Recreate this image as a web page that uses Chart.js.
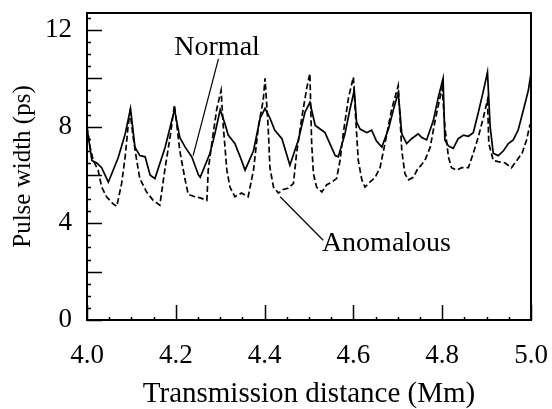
<!DOCTYPE html>
<html>
<head>
<meta charset="utf-8">
<script src="https://cdn.jsdelivr.net/npm/chart.js@4/dist/chart.umd.min.js"></script>
<style>
  html, body { margin: 0; padding: 0; background: #fff; }
  canvas { display: block; }
</style>
</head>
<body>
<canvas id="c" width="552" height="409"></canvas>
<script>
// ---- data ----
const xTickLabels = [4.0, 4.2, 4.4, 4.6, 4.8, 5.0];
const yTickLabels = [0, 4, 8, 12];

const xNormal = [4.000,4.003,4.011,4.022,4.033,4.048,4.070,4.086,4.098,4.108,4.119,4.131,4.142,4.153,4.176,4.197,4.209,4.221,4.236,4.251,4.255,4.277,4.288,4.300,4.311,4.318,4.333,4.345,4.356,4.375,4.390,4.401,4.412,4.423,4.439,4.457,4.476,4.491,4.502,4.514,4.525,4.536,4.547,4.559,4.566,4.581,4.592,4.602,4.607,4.615,4.630,4.641,4.652,4.664,4.679,4.690,4.701,4.709,4.720,4.731,4.746,4.754,4.765,4.780,4.791,4.802,4.806,4.814,4.825,4.836,4.848,4.859,4.870,4.881,4.893,4.902,4.908,4.915,4.926,4.938,4.949,4.960,4.971,4.983,4.994,5.000];
const yNormal = [7.9,7.6,6.6,6.5,6.3,5.7,6.7,7.7,8.75,7.15,6.8,6.75,6.0,5.85,7.15,8.7,7.55,7.15,6.75,6.0,5.9,6.9,7.7,8.7,8.1,7.65,7.3,6.75,6.2,7.0,8.35,8.75,8.35,7.85,7.5,6.4,7.45,8.6,9.0,8.05,7.9,7.75,7.3,6.8,6.75,7.7,8.7,9.5,8.2,7.9,7.75,7.85,7.4,7.15,7.9,8.7,9.4,7.7,7.3,7.5,7.7,7.55,7.45,8.25,9.2,10.0,7.45,7.2,7.1,7.5,7.65,7.6,7.75,8.55,9.5,10.25,8.0,6.9,6.8,7.0,7.3,7.45,7.85,8.7,9.5,10.2];

const xAnomalous = [4.000,4.007,4.014,4.025,4.033,4.044,4.059,4.067,4.078,4.086,4.093,4.097,4.104,4.112,4.119,4.134,4.149,4.164,4.176,4.187,4.197,4.209,4.221,4.228,4.243,4.255,4.270,4.273,4.281,4.292,4.302,4.307,4.315,4.322,4.333,4.348,4.363,4.375,4.386,4.397,4.401,4.408,4.412,4.420,4.431,4.442,4.453,4.465,4.472,4.484,4.495,4.502,4.506,4.510,4.517,4.529,4.540,4.551,4.562,4.570,4.577,4.589,4.600,4.604,4.611,4.619,4.626,4.637,4.649,4.660,4.671,4.686,4.701,4.709,4.716,4.724,4.735,4.746,4.750,4.761,4.773,4.784,4.795,4.800,4.806,4.814,4.821,4.832,4.844,4.859,4.870,4.881,4.893,4.902,4.905,4.915,4.926,4.941,4.956,4.968,4.980,4.990,4.998];
const yAnomalous = [8.0,7.15,6.6,6.2,5.5,5.1,4.8,4.7,5.65,6.75,8.1,8.6,7.55,6.6,5.85,5.3,4.95,4.75,6.3,7.55,8.9,7.0,5.8,5.2,5.1,5.05,4.95,6.2,7.3,8.7,9.5,8.0,6.2,5.5,5.1,5.25,5.1,6.2,8.0,9.1,10.0,8.0,6.3,5.5,5.25,5.4,5.45,5.65,6.9,8.4,9.6,10.2,7.3,6.05,5.5,5.3,5.6,5.7,5.85,6.6,7.7,9.2,10.05,8.7,6.6,5.8,5.5,5.7,5.9,6.3,7.3,8.7,9.7,7.0,6.05,5.8,5.9,6.3,6.35,6.6,7.15,8.25,9.2,9.6,8.0,6.75,6.3,6.2,6.3,6.3,6.9,7.55,8.4,9.1,7.3,6.6,6.55,6.5,6.3,6.6,6.9,7.45,8.1];

const seriesNames = ['Normal', 'Anomalous'];

// ---- presentation ----
const SERIF = "'Liberation Serif', 'Times New Roman', serif";

const annotations = [
  { text: seriesNames[0], tx: 4.293, ty: 10.95, align: 'center', line: [4.296, 10.8, 4.239, 6.8] },
  { text: seriesNames[1], tx: 4.529, ty: 2.85, align: 'left', line: [4.435, 5.1, 4.532, 3.3] }
];

const framePlugin = {
  id: 'frame',
  afterDraw(chart) {
    const { ctx, chartArea: a, scales: { x, y } } = chart;
    ctx.save();
    ctx.strokeStyle = '#000';
    ctx.lineWidth = 1.5;
    ctx.beginPath();
    for (let k = 0; k <= 25; k++) {
      const v = k * 0.5;
      const py = Math.round(y.getPixelForValue(v)) + 0.5;
      const len = (k % 4 === 0) ? 15 : 4;
      ctx.moveTo(a.left, py);
      ctx.lineTo(a.left + len, py);
    }
    for (let k = 0; k <= 20; k++) {
      const v = 4 + k * 0.05;
      const px = Math.round(x.getPixelForValue(v)) + 0.5;
      const len = (k % 4 === 0) ? 15 : 3;
      ctx.moveTo(px, a.bottom);
      ctx.lineTo(px, a.bottom - len);
    }
    ctx.stroke();
    ctx.lineWidth = 2;
    ctx.strokeRect(a.left, a.top, a.right - a.left, a.bottom - a.top);

    ctx.lineWidth = 1.2;
    ctx.font = '28px ' + SERIF;
    ctx.fillStyle = '#000';
    ctx.textBaseline = 'alphabetic';
    for (const an of annotations) {
      ctx.beginPath();
      ctx.moveTo(x.getPixelForValue(an.line[0]), y.getPixelForValue(an.line[1]));
      ctx.lineTo(x.getPixelForValue(an.line[2]), y.getPixelForValue(an.line[3]));
      ctx.stroke();
      ctx.textAlign = an.align;
      ctx.fillText(an.text, x.getPixelForValue(an.tx), y.getPixelForValue(an.ty));
    }
    ctx.restore();
  }
};

new Chart(document.getElementById('c'), {
  type: 'line',
  data: {
    datasets: [
      {
        label: seriesNames[0],
        data: xNormal.map((v, i) => ({ x: v, y: yNormal[i] })),
        borderColor: '#000',
        borderWidth: 1.7,
        pointRadius: 0,
        tension: 0,
        fill: false
      },
      {
        label: seriesNames[1],
        data: xAnomalous.map((v, i) => ({ x: v, y: yAnomalous[i] })),
        borderColor: '#000',
        borderWidth: 1.7,
        borderDash: [6, 3],
        pointRadius: 0,
        tension: 0,
        fill: false
      }
    ]
  },
  options: {
    responsive: false,
    animation: false,
    events: [],
    layout: { padding: { left: 0, right: 21, top: 13, bottom: 0 } },
    plugins: { legend: { display: false }, tooltip: { enabled: false } },
    scales: {
      x: {
        type: 'linear',
        min: 4,
        max: 5,
        afterBuildTicks: s => { s.ticks = xTickLabels.map(v => ({ value: v })); },
        afterFit: s => { s.height = 89; s.paddingLeft = 0; s.paddingRight = 0; },
        ticks: {
          callback: v => Number(v).toFixed(1),
          font: { family: SERIF, size: 27 },
          color: '#000',
          padding: 20,
          maxRotation: 0,
          autoSkip: false
        },
        grid: { display: false, drawTicks: false },
        border: { display: false },
        title: {
          display: true,
          text: 'Transmission distance (Mm)',
          color: '#000',
          font: { family: SERIF, size: 29, lineHeight: 1 },
          padding: { top: 0, bottom: 0 }
        }
      },
      y: {
        type: 'linear',
        min: 0,
        max: 12.7,
        afterBuildTicks: s => { s.ticks = yTickLabels.map(v => ({ value: v })); },
        afterFit: s => { s.width = 87; s.paddingTop = 0; s.paddingBottom = 0; },
        ticks: {
          font: { family: SERIF, size: 27 },
          color: '#000',
          padding: 15,
          autoSkip: false
        },
        grid: { display: false, drawTicks: false },
        border: { display: false },
        title: {
          display: true,
          text: 'Pulse width (ps)',
          color: '#000',
          font: { family: SERIF, size: 25, lineHeight: 1 },
          padding: { top: 11, bottom: 0 }
        }
      }
    }
  },
  plugins: [framePlugin]
});
</script>
</body>
</html>
